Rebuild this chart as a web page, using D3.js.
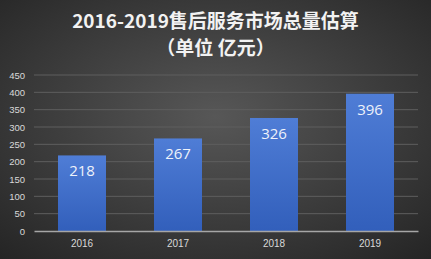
<!DOCTYPE html>
<html>
<head>
<meta charset="utf-8">
<script src="https://cdn.jsdelivr.net/npm/d3@7"></script>
<style>
  html, body { margin: 0; padding: 0; background: #333; }
  svg { display: block; }
</style>
</head>
<body>
<div id="chart"></div>
<script>
// data
const years = ['2016', '2017', '2018', '2019'];
const marketSize = [218, 267, 326, 396];
const yTicks = [0, 50, 100, 150, 200, 250, 300, 350, 400, 450];
const titleLines = ['2016-2019售后服务市场总量估算', '（单位 亿元）'];

const width = 431, height = 259;
const margin = { top: 75, right: 13, bottom: 28, left: 34 };
const innerW = width - margin.left - margin.right;
const innerH = height - margin.top - margin.bottom;

const svg = d3.select('#chart')
  .append('svg')
  .attr('width', width)
  .attr('height', height);

const defs = svg.append('defs');
const bg = defs.append('radialGradient')
  .attr('id', 'bg')
  .attr('cx', '50%').attr('cy', '45%').attr('r', '75%');
bg.append('stop').attr('offset', '0%').attr('stop-color', '#575757');
bg.append('stop').attr('offset', '100%').attr('stop-color', '#242424');

const barGrad = defs.append('linearGradient')
  .attr('id', 'bar')
  .attr('x1', 0).attr('y1', 0).attr('x2', 0).attr('y2', 1);
barGrad.append('stop').attr('offset', '0%').attr('stop-color', '#4f7dd6');
barGrad.append('stop').attr('offset', '100%').attr('stop-color', '#325fbb');

svg.append('rect')
  .attr('width', width)
  .attr('height', height)
  .attr('fill', 'url(#bg)');

// title
svg.append('g')
  .selectAll('text')
  .data(titleLines)
  .enter()
  .append('text')
  .attr('x', width / 2)
  .attr('y', (d, i) => 28 + i * 27)
  .attr('text-anchor', 'middle')
  .attr('fill', '#f2f2f2')
  .style('font-family', '"Noto Sans CJK SC", "Noto Sans", sans-serif')
  .style('font-weight', 'bold')
  .style('font-size', '19px')
  .text(d => d);

const g = svg.append('g')
  .attr('transform', 'translate(' + margin.left + ',' + margin.top + ')');

const x = d3.scaleBand()
  .domain(years)
  .range([0, innerW])
  .paddingInner(0.5)
  .paddingOuter(0.25);

const y = d3.scaleLinear()
  .domain([0, 450])
  .range([innerH, 0]);

// grid
g.append('g')
  .selectAll('line')
  .data(yTicks.filter(d => d > 0))
  .enter()
  .append('line')
  .attr('x1', 0)
  .attr('x2', innerW)
  .attr('y1', d => y(d))
  .attr('y2', d => y(d))
  .attr('stroke', '#5e5e5e')
  .attr('stroke-width', 1);

// y axis
const yAxis = d3.axisLeft(y).tickValues(yTicks).tickSize(0).tickPadding(9);
g.append('g')
  .call(yAxis)
  .call(a => a.select('.domain').remove())
  .selectAll('text')
  .attr('fill', '#d9d9d9')
  .style('font-family', '"Liberation Sans", Arial, sans-serif')
  .style('font-size', '9.5px');

// bars
g.selectAll('.bar')
  .data(marketSize)
  .enter()
  .append('rect')
  .attr('class', 'bar')
  .attr('x', (d, i) => x(years[i]))
  .attr('y', d => y(d))
  .attr('width', x.bandwidth())
  .attr('height', d => innerH - y(d))
  .attr('fill', 'url(#bar)');

// value labels
g.selectAll('.val')
  .data(marketSize)
  .enter()
  .append('text')
  .attr('class', 'val')
  .attr('x', (d, i) => x(years[i]) + x.bandwidth() / 2)
  .attr('y', d => y(d) + 21)
  .attr('text-anchor', 'middle')
  .attr('fill', '#eef2fa')
  .style('font-family', '"Open Sans", "Liberation Sans", sans-serif')
  .style('font-size', '15px')
  .text(d => d);

// x axis
const xAxis = d3.axisBottom(x).tickSize(0).tickPadding(9);
g.append('g')
  .attr('transform', 'translate(0,' + innerH + ')')
  .call(xAxis)
  .call(a => a.select('.domain').attr('stroke', '#a6a6a6').attr('stroke-width', 1.5))
  .selectAll('text')
  .attr('fill', '#d9d9d9')
  .style('font-family', '"Liberation Sans", Arial, sans-serif')
  .style('font-size', '10px');
</script>
</body>
</html>
